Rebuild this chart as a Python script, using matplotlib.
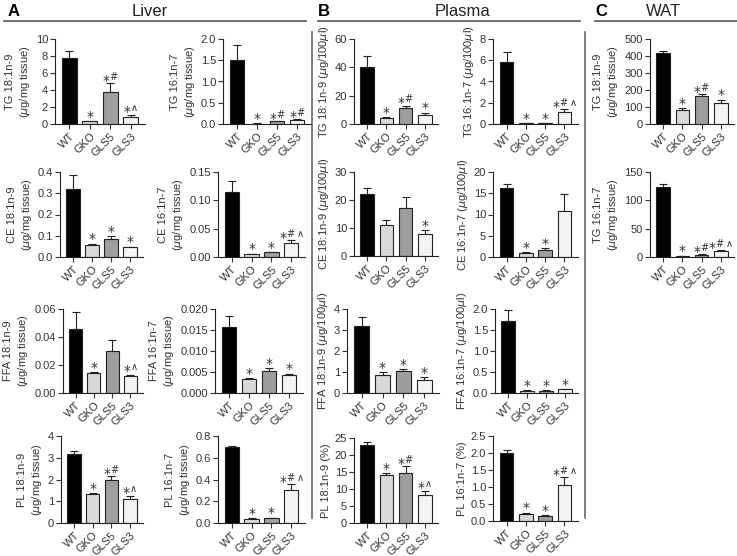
import matplotlib
matplotlib.use('Agg')
import matplotlib.pyplot as plt
from matplotlib.lines import Line2D

plt.rcParams['font.family'] = ['Liberation Sans', 'DejaVu Sans']
plt.rcParams['mathtext.fontset'] = 'dejavusans'

groups = ['WT', 'GKO', 'GLS5', 'GLS3']
colors = ['#000000', '#d9d9d9', '#9e9e9e', '#f3f3f3']

# Liver
liver_tg_189 = [7.8, 0.3, 3.8, 0.8]
liver_tg_189_err = [0.8, 0.05, 1.0, 0.2]
liver_tg_189_sig = ['', '*', '*#', '*^']
liver_tg_161 = [1.5, 0.01, 0.06, 0.09]
liver_tg_161_err = [0.35, 0.003, 0.01, 0.02]
liver_tg_161_sig = ['', '*', '*#', '*#']
liver_ce_189 = [0.32, 0.055, 0.085, 0.045]
liver_ce_189_err = [0.068, 0.008, 0.015, 0.004]
liver_ce_189_sig = ['', '*', '*', '*']
liver_ce_161 = [0.115, 0.005, 0.008, 0.025]
liver_ce_161_err = [0.02, 0.001, 0.001, 0.005]
liver_ce_161_sig = ['', '*', '*', '*#^']
liver_ffa_189 = [0.046, 0.014, 0.030, 0.0122]
liver_ffa_189_err = [0.012, 0.001, 0.008, 0.001]
liver_ffa_189_sig = ['', '*', '', '*^']
liver_ffa_161 = [0.0157, 0.0033, 0.0052, 0.0043]
liver_ffa_161_err = [0.0027, 0.0003, 0.0008, 0.0003]
liver_ffa_161_sig = ['', '*', '*', '*']
liver_pl_189 = [3.17, 1.35, 2.0, 1.12]
liver_pl_189_err = [0.12, 0.03, 0.15, 0.1]
liver_pl_189_sig = ['', '*', '*#', '*^']
liver_pl_161 = [0.70, 0.04, 0.045, 0.30]
liver_pl_161_err = [0.01, 0.005, 0.005, 0.06]
liver_pl_161_sig = ['', '*', '*', '*#^']

# Plasma
plasma_tg_189 = [40, 4.5, 11, 6.5]
plasma_tg_189_err = [8, 0.5, 2, 1.5]
plasma_tg_189_sig = ['', '*', '*#', '*']
plasma_tg_161 = [5.8, 0.08, 0.1, 1.1]
plasma_tg_161_err = [1.0, 0.02, 0.02, 0.3]
plasma_tg_161_sig = ['', '*', '*', '*#^']
plasma_ce_189 = [22, 11, 17, 7.8]
plasma_ce_189_err = [2.2, 1.8, 4.2, 1.5]
plasma_ce_189_sig = ['', '', '', '*']
plasma_ce_161 = [16.2, 1.0, 1.7, 10.9]
plasma_ce_161_err = [1.0, 0.2, 0.4, 4.0]
plasma_ce_161_sig = ['', '*', '*', '']
plasma_ffa_189 = [3.2, 0.85, 1.07, 0.63]
plasma_ffa_189_err = [0.4, 0.15, 0.08, 0.12]
plasma_ffa_189_sig = ['', '*', '*', '*']
plasma_ffa_161 = [1.72, 0.05, 0.05, 0.09]
plasma_ffa_161_err = [0.25, 0.01, 0.01, 0.01]
plasma_ffa_161_sig = ['', '*', '*', '*']
plasma_pl_189 = [22.9, 14.0, 14.6, 8.3]
plasma_pl_189_err = [0.8, 0.6, 2.1, 1.0]
plasma_pl_189_sig = ['', '*', '*#', '*^']
plasma_pl_161 = [2.0, 0.22, 0.15, 1.05]
plasma_pl_161_err = [0.1, 0.03, 0.02, 0.25]
plasma_pl_161_sig = ['', '*', '*', '*#^']

# WAT
wat_tg_189 = [415, 85, 162, 125]
wat_tg_189_err = [15, 10, 15, 18]
wat_tg_189_sig = ['', '*', '*#', '*']
wat_tg_161 = [123, 2, 4, 11]
wat_tg_161_err = [6, 0.5, 1, 1.5]
wat_tg_161_sig = ['', '*', '*#', '*#^']

W, H = 737, 556
fig = plt.figure(figsize=(W / 100, H / 100), dpi=100)

ug_mg = '($\\mu$g/mg tissue)'
ug_100 = '($\\mu$g/100$\\mu$l)'

# (values, errors, signif, ylabel, ticks, tick format, [left, top, right, bottom] in px)
panels = [
    (liver_tg_189, liver_tg_189_err, liver_tg_189_sig, 'TG 18:1n-9\n' + ug_mg, [0, 2, 4, 6, 8, 10], '{:.0f}', [55, 39, 145, 124]),
    (liver_tg_161, liver_tg_161_err, liver_tg_161_sig, 'TG 16:1n-7\n' + ug_mg, [0, 0.5, 1.0, 1.5, 2.0], '{:.1f}', [223, 39, 311, 124]),
    (plasma_tg_189, plasma_tg_189_err, plasma_tg_189_sig, 'TG 18:1n-9 ' + ug_100, [0, 20, 40, 60], '{:.0f}', [354, 39, 438, 124]),
    (plasma_tg_161, plasma_tg_161_err, plasma_tg_161_sig, 'TG 16:1n-7 ' + ug_100, [0, 2, 4, 6, 8], '{:.0f}', [493, 39, 578, 124]),
    (wat_tg_189, wat_tg_189_err, wat_tg_189_sig, 'TG 18:1n-9\n' + ug_mg, [0, 100, 200, 300, 400, 500], '{:.0f}', [650, 39, 734, 124]),
    (liver_ce_189, liver_ce_189_err, liver_ce_189_sig, 'CE 18:1n-9\n' + ug_mg, [0, 0.1, 0.2, 0.3, 0.4], '{:.1f}', [60, 172, 143, 257]),
    (liver_ce_161, liver_ce_161_err, liver_ce_161_sig, 'CE 16:1n-7\n' + ug_mg, [0, 0.05, 0.10, 0.15], '{:.2f}', [218, 172, 305, 257]),
    (plasma_ce_189, plasma_ce_189_err, plasma_ce_189_sig, 'CE 18:1n-9 ' + ug_100, [0, 10, 20, 30], '{:.0f}', [354, 172, 438, 256]),
    (plasma_ce_161, plasma_ce_161_err, plasma_ce_161_sig, 'CE 16:1n-7 ' + ug_100, [0, 5, 10, 15, 20], '{:.0f}', [493, 172, 578, 257]),
    (wat_tg_161, wat_tg_161_err, wat_tg_161_sig, 'TG 16:1n-7\n' + ug_mg, [0, 50, 100, 150], '{:.0f}', [650, 172, 734, 257]),
    (liver_ffa_189, liver_ffa_189_err, liver_ffa_189_sig, 'FFA 18:1n-9\n' + ug_mg, [0, 0.02, 0.04, 0.06], '{:.2f}', [63, 309, 143, 393]),
    (liver_ffa_161, liver_ffa_161_err, liver_ffa_161_sig, 'FFA 16:1n-7\n' + ug_mg, [0, 0.005, 0.010, 0.015, 0.020], '{:.3f}', [215, 309, 303, 393]),
    (plasma_ffa_189, plasma_ffa_189_err, plasma_ffa_189_sig, 'FFA 18:1n-9 ' + ug_100, [0, 1, 2, 3, 4], '{:.0f}', [347, 309, 439, 393]),
    (plasma_ffa_161, plasma_ffa_161_err, plasma_ffa_161_sig, 'FFA 16:1n-7 ' + ug_100, [0, 0.5, 1.0, 1.5, 2.0], '{:.1f}', [495, 309, 578, 393]),
    (liver_pl_189, liver_pl_189_err, liver_pl_189_sig, 'PL 18:1n-9\n' + ug_mg, [0, 1, 2, 3, 4], '{:.0f}', [61, 436, 143, 523]),
    (liver_pl_161, liver_pl_161_err, liver_pl_161_sig, 'PL 16:1n-7\n' + ug_mg, [0, 0.2, 0.4, 0.6, 0.8], '{:.1f}', [218, 436, 305, 523]),
    (plasma_pl_189, plasma_pl_189_err, plasma_pl_189_sig, 'PL 18:1n-9 (%)', [0, 5, 10, 15, 20, 25], '{:.0f}', [354, 438, 438, 523]),
    (plasma_pl_161, plasma_pl_161_err, plasma_pl_161_sig, 'PL 16:1n-7 (%)', [0, 0.5, 1.0, 1.5, 2.0, 2.5], '{:.1f}', [493, 436, 578, 521]),
]


def sig_label(s):
    # big asterisk followed by small #/^ marks
    rest = s[1:].replace('#', '\\#').replace('^', '\\wedge')
    if rest:
        return '*$^{' + rest + '}$'
    return s


tc = '#333333'
for vals, errs, sig, ylab, ticks, fmt, (l, t, r, b) in panels:
    ax = fig.add_axes([l / W, 1 - b / H, (r - l) / W, (b - t) / H])
    x = range(len(groups))
    ax.bar(x, vals, width=0.72, color=colors, edgecolor='#222222', linewidth=0.8, zorder=2)
    ax.errorbar(x, vals, yerr=[[0] * len(errs), errs], fmt='none', ecolor='#222222',
                elinewidth=0.8, capsize=3, capthick=0.8, zorder=1)
    for xi, v, e, s in zip(x, vals, errs, sig):
        if s:
            ax.annotate(sig_label(s), (xi, v + e), xytext=(0, -2), textcoords='offset points',
                        ha='center', va='bottom', fontsize=10, color=tc, family='DejaVu Sans')
    ax.set_xlim(-0.7, 3.7)
    ax.set_ylim(ticks[0], ticks[-1])
    ax.set_yticks(ticks)
    ax.set_yticklabels([fmt.format(v) for v in ticks])
    ax.set_xticks(list(x))
    ax.set_xticklabels(groups, rotation=45, ha='right', rotation_mode='anchor')
    ax.tick_params(labelsize=8, colors=tc, length=3.5, width=0.8, pad=1.5)
    for sp in ['top', 'right']:
        ax.spines[sp].set_visible(False)
    for sp in ['left', 'bottom']:
        ax.spines[sp].set_linewidth(0.8)
        ax.spines[sp].set_color('#222222')
    ax.set_ylabel(ylab, fontsize=8, color=tc, labelpad=3, linespacing=1.3)
    ax.set_facecolor('none')

# section headers
heads = [('A', 'Liver', 8, 150, 4, 306), ('B', 'Plasma', 318, 462, 318, 580), ('C', 'WAT', 595, 663, 595, 737)]
for letter, name, lx, nx, x0, x1 in heads:
    fig.text(lx / W, 1 - 12 / H, letter, fontsize=12, fontweight='bold', va='center', ha='left')
    fig.text(nx / W, 1 - 12 / H, name, fontsize=12, va='center', ha='center', color='#222222')
    fig.add_artist(Line2D([x0 / W, x1 / W], [1 - 21 / H, 1 - 21 / H], color='#555555', lw=1.2))

for vx in [312, 585]:
    fig.add_artist(Line2D([vx / W, vx / W], [1 - 32 / H, 1 - 518 / H], color='#666666', lw=1.2))

fig.savefig('out.png', dpi=100)
